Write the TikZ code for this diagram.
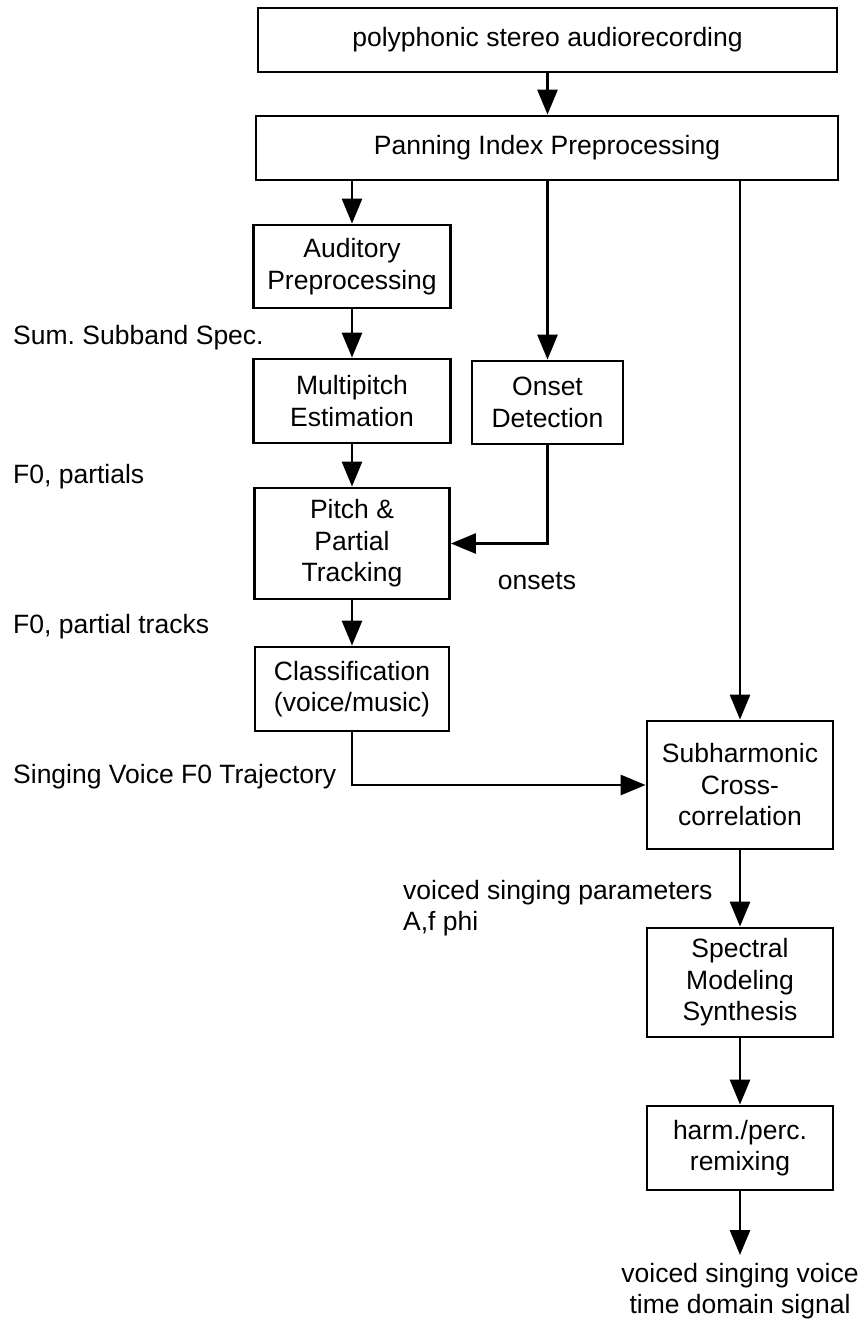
\documentclass[tikz,border=0pt]{standalone}
\usepackage{fontspec}
\setmainfont{Liberation Sans}
\usetikzlibrary{arrows.meta}
\frenchspacing
\begin{document}
\begin{tikzpicture}[x=1pt,y=-1pt,
  box/.style={draw, line width=2.8pt, align=center, inner sep=0pt},
  conn/.style={line width=2.8pt, -{Triangle[length=25pt,width=20pt]}},
  lbl/.style={inner sep=0pt},
  font=\fontsize{26.5}{31.5}\selectfont]
\useasboundingbox (0,0) rectangle (864,1324);
% boxes
\node[box, minimum width=579pt, minimum height=64pt] (rec) at (547.5,40) {polyphonic stereo audiorecording};
\node[box, minimum width=582pt, minimum height=64pt] (pan) at (547,148) {Panning Index Preprocessing};
\node[box, minimum width=197pt, minimum height=83pt] (aud) at (352,266.5) {Auditory\\Preprocessing};
\node[box, minimum width=197pt, minimum height=84pt] (mp) at (352,401) {Multipitch\\Estimation};
\node[box, minimum width=151pt, minimum height=83pt] (ons) at (547.5,402.5) {Onset\\Detection};
\node[box, minimum width=195pt, minimum height=111pt] (pt) at (352,543.5) {Pitch \&\\Partial\\Tracking};
\node[box, minimum width=194pt, minimum height=84pt] (cls) at (352,689) {Classification\\(voice/music)};
\node[box, minimum width=186pt, minimum height=128pt] (sub) at (740,785) {Subharmonic\\Cross-\\correlation};
\node[box, minimum width=186pt, minimum height=109pt] (sms) at (740,982.5) {Spectral\\Modeling\\Synthesis};
\node[box, minimum width=186pt, minimum height=84pt] (hp) at (740,1148) {harm./perc.\\remixing};
% labels
\node[lbl, anchor=base west] (l1) at (13,344) {Sum. Subband Spec.};
\node[lbl, anchor=base west] (l2) at (13,483) {F0, partials};
\node[lbl, anchor=base west] (l3) at (13,633) {F0, partial tracks};
\node[lbl, anchor=base west] (l4) at (13,783) {Singing Voice F0 Trajectory};
\node[lbl, anchor=base] (l5) at (537,589) {onsets};
\node[lbl, anchor=north west, align=left] (l6) at (403,880) {voiced singing parameters\\A,f phi};
\node[lbl, inner ysep=8pt, anchor=north, align=center] (out) at (740,1255) {voiced singing voice\\time domain signal};
% connectors
\draw[conn] (rec.south) -- (rec.south |- pan.north);
\draw[conn] (aud.north |- pan.south) -- (aud.north);
\draw[conn] (ons.north |- pan.south) -- (ons.north);
\draw[conn] (sub.north |- pan.south) -- (sub.north);
\draw[conn] (aud) -- (mp);
\draw[conn] (mp) -- (pt);
\draw[conn] (ons.south) |- (pt.east);
\draw[conn] (pt) -- (cls);
\draw[conn] (cls.south) |- (sub.west);
\draw[conn] (sub) -- (sms);
\draw[conn] (sms) -- (hp);
\draw[conn] (hp) -- (out);
\end{tikzpicture}
\end{document}
